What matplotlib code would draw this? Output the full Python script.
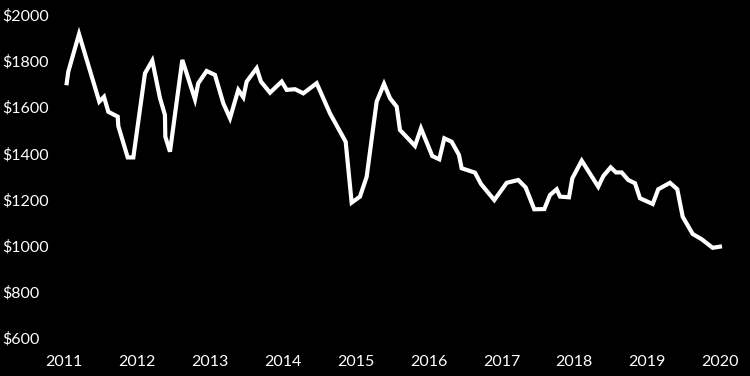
import matplotlib
matplotlib.use("Agg")
import matplotlib.pyplot as plt

# fractional years, with the matching prices
years = [2011.037, 2011.059, 2011.206, 2011.484, 2011.549, 2011.608, 2011.737, 2011.745,
         2011.874, 2011.951, 2012.111, 2012.211, 2012.317, 2012.385, 2012.39, 2012.454,
         2012.623, 2012.797, 2012.842, 2012.957, 2013.071, 2013.185, 2013.277, 2013.391,
         2013.460, 2013.506, 2013.643, 2013.702, 2013.826, 2013.986, 2014.055, 2014.169,
         2014.283, 2014.466, 2014.649, 2014.864, 2014.946, 2015.060, 2015.152, 2015.289,
         2015.390, 2015.472, 2015.564, 2015.609, 2015.815, 2015.897, 2016.052, 2016.148,
         2016.217, 2016.318, 2016.418, 2016.455, 2016.638, 2016.720, 2016.903, 2017.073,
         2017.232, 2017.333, 2017.451, 2017.589, 2017.667, 2017.759, 2017.804, 2017.927,
         2017.973, 2018.102, 2018.329, 2018.398, 2018.499, 2018.572, 2018.650, 2018.741,
         2018.833, 2018.901, 2019.076, 2019.152, 2019.313, 2019.413, 2019.487, 2019.624,
         2019.748, 2019.898, 2019.998]
prices = [1704, 1754, 1917, 1624, 1645, 1580, 1559, 1518,
          1382, 1382, 1747, 1802, 1639, 1566, 1472, 1407,
          1805, 1634, 1704, 1757, 1740, 1617, 1552, 1675,
          1643, 1711, 1769, 1711, 1663, 1711, 1675, 1678,
          1660, 1704, 1573, 1450, 1186, 1212, 1298, 1624,
          1701, 1639, 1602, 1501, 1432, 1508, 1388, 1374,
          1465, 1450, 1393, 1335, 1316, 1267, 1197, 1272,
          1284, 1252, 1157, 1158, 1219, 1244, 1212, 1209,
          1291, 1368, 1255, 1301, 1339, 1317, 1317, 1284,
          1270, 1205, 1180, 1244, 1272, 1244, 1125, 1050,
          1027, 990, 995]

year_ticks = list(range(2011, 2021))
price_ticks = list(range(600, 2001, 200))

W, H = 750, 376
fig = plt.figure(figsize=(W / 100, H / 100), dpi=100)
fig.patch.set_facecolor("black")

# axes box in pixels: left 50, right 745, top 5, bottom 345
ax = fig.add_axes([50 / W, 1 - 345 / H, 695 / W, 340 / H])
ax.set_facecolor("black")

ax.plot(years, prices, color="white", lw=3, solid_joinstyle="miter")

ax.set_xlim(2010.808, 2020.342)
ax.set_ylim(568.3, 2043.3)

ax.set_xticks(year_ticks)
ax.set_xticklabels([str(y) for y in year_ticks])
ax.set_yticks(price_ticks)
ax.set_yticklabels([f"${p}" for p in price_ticks])

for s in ax.spines.values():
    s.set_visible(False)

ax.tick_params(axis="both", length=0, colors="white", labelsize=11.5)
ax.tick_params(axis="y", pad=34.5)
ax.tick_params(axis="x", pad=7)
for lbl in ax.get_yticklabels():
    lbl.set_horizontalalignment("left")
    lbl.set_fontfamily("Lato")
for lbl in ax.get_xticklabels():
    lbl.set_fontfamily("Lato")

fig.savefig("out.png", dpi=100, facecolor="black")
